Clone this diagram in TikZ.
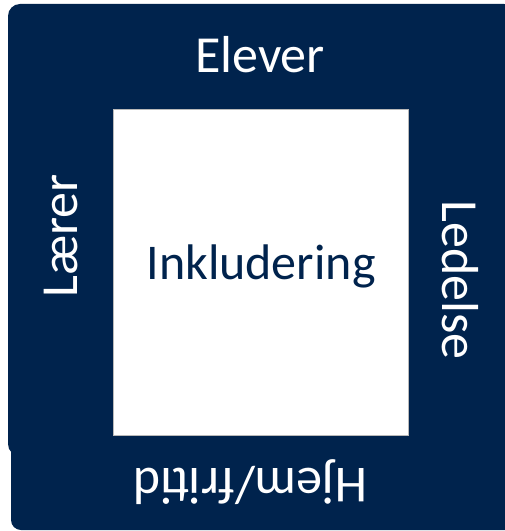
\documentclass[tikz,border=0pt]{standalone}
\usepackage{fontspec}
\setmainfont{Carlito}
\definecolor{navy}{RGB}{0,35,77}
\begin{document}
\begin{tikzpicture}[x=1bp,y=-1bp,
  lbl/.style={text=white,inner sep=0pt,outer sep=0pt,anchor=base,font=\fontsize{52bp}{60bp}\selectfont},
  ctr/.style={text=navy,inner sep=0pt,outer sep=0pt,anchor=base,font=\fontsize{50bp}{60bp}\selectfont}]
\useasboundingbox[fill=white] (0,0) rectangle (505,531);
\begin{scope}
\clip (0,0) rectangle (505,531);
\fill[navy,rounded corners=12bp] (8,4) rectangle (516,456);
\fill[navy] (11,440) -- (11,520) arc[start angle=180,end angle=270,radius=10bp] -- (516,530) -- (516,440) -- cycle;
\end{scope}
\node[draw=gray!55,line width=0.8bp,fill=white,minimum width=295bp,minimum height=326bp,inner sep=0pt,anchor=north west] (core) at (113,109) {};
\node[ctr] (ink) at (261,279) {Inkludering};
\node[lbl] (elever) at (260,73) {Elever};
\node[lbl,rotate=90] (laerer) at (77,236) {Lærer};
\node[lbl,rotate=-90] (ledelse) at (442,280) {Ledelse};
\node[lbl,rotate=180] (hjem) at (250,468) {Hjem/fritid};
\end{tikzpicture}
\end{document}
